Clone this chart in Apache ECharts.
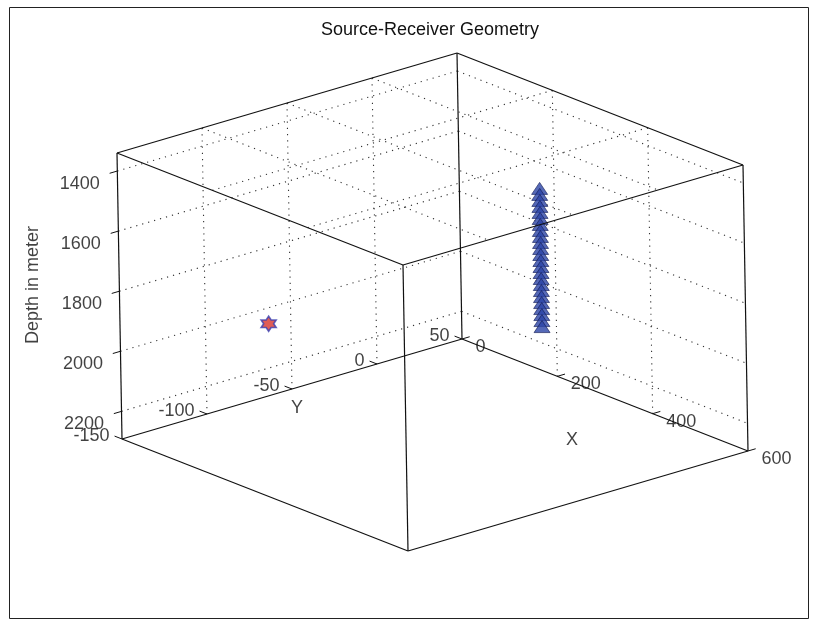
<!DOCTYPE html>
<html><head><meta charset="utf-8">
<script src="https://cdn.jsdelivr.net/npm/echarts@6/dist/echarts.min.js"></script>
<style>html,body{margin:0;padding:0;background:#fff}#c{width:817px;height:621px}</style>
</head><body><div id="c"></div>
<script>
// ---------- data ----------
const chartTitle = 'Source-Receiver Geometry';
const xAxisName = 'X';
const yAxisName = 'Y';
const zAxisName = 'Depth in meter';
const xTicks = [0, 200, 400, 600];
const yTicks = [-150, -100, -50, 0, 50];
const zTicks = [1400, 1600, 1800, 2000, 2200];
const xLimits = [0, 600];
const yLimits = [-150, 50];
const zLimits = [1340, 2292];
// receivers in the well (x, y fixed; depths listed)
const receiverX = 350;
const receiverY = 0;
const receiverDepths = [1490, 1510, 1530, 1550, 1570, 1590, 1610, 1630, 1650, 1670, 1690, 1710,
                        1730, 1750, 1770, 1790, 1810, 1830, 1850, 1870, 1890, 1910, 1930, 1950];
// source position [x, y, depth]
const sourcePos = [0, -63, 2053];

// ---------- view (orthographic projection of the 3-D box onto the 2-D canvas axes) ----------
const FONT = '"Liberation Sans", Arial, sans-serif';
const VIEW = { o: [117, 153], ex: [286, 112], ey: [340, -100], ez: [5, 286] };
function norm(v, lim) { return (v - lim[0]) / (lim[1] - lim[0]); }
function proj(x, y, z) {
  const u = norm(x, xLimits), v = norm(y, yLimits), w = norm(z, zLimits);
  return [VIEW.o[0] + u * VIEW.ex[0] + v * VIEW.ey[0] + w * VIEW.ez[0],
          VIEW.o[1] + u * VIEW.ex[1] + v * VIEW.ey[1] + w * VIEW.ez[1]];
}
function unit(a) { const l = Math.hypot(a[0], a[1]); return [a[0] / l, a[1] / l]; }
function seg(p, d, len) { return [p, [p[0] + d[0] * len, p[1] + d[1] * len]]; }

// box edges
const corners = [];
for (const x of xLimits) for (const y of yLimits) for (const z of zLimits) corners.push([x, y, z]);
const boxEdges = [];
for (let i = 0; i < corners.length; i++) for (let j = i + 1; j < corners.length; j++) {
  let diff = 0; for (let k = 0; k < 3; k++) if (corners[i][k] !== corners[j][k]) diff++;
  if (diff === 1) boxEdges.push({ coords: [proj(...corners[i]), proj(...corners[j])] });
}

// grid lines on the three back planes: x = xmin, y = ymax, z = zmin
const inner = (ticks, lim) => ticks.filter(t => t > lim[0] && t < lim[1]);
const gridLines = [];
for (const y of inner(yTicks, yLimits)) {
  gridLines.push({ coords: [proj(xLimits[0], y, zLimits[0]), proj(xLimits[0], y, zLimits[1])] });
  gridLines.push({ coords: [proj(xLimits[0], y, zLimits[0]), proj(xLimits[1], y, zLimits[0])] });
}
for (const x of inner(xTicks, xLimits)) {
  gridLines.push({ coords: [proj(x, yLimits[1], zLimits[0]), proj(x, yLimits[1], zLimits[1])] });
  gridLines.push({ coords: [proj(x, yLimits[0], zLimits[0]), proj(x, yLimits[1], zLimits[0])] });
}
for (const z of inner(zTicks, zLimits)) {
  gridLines.push({ coords: [proj(xLimits[0], yLimits[0], z), proj(xLimits[0], yLimits[1], z)] });
  gridLines.push({ coords: [proj(xLimits[0], yLimits[1], z), proj(xLimits[1], yLimits[1], z)] });
}

// tick marks and tick labels
const dEx = unit(VIEW.ex), dEy = unit(VIEW.ey);
const TICK = 8;
const tickMarks = [];
const zLabelData = [], yLabelData = [], xLabelData = [];
for (const z of zTicks) {
  const p = proj(xLimits[0], yLimits[0], z);
  tickMarks.push({ coords: seg(p, [-dEy[0], -dEy[1]], TICK) });
  zLabelData.push({ name: String(z), value: p });
}
for (const y of yTicks) {
  const p = proj(xLimits[0], y, zLimits[1]);
  tickMarks.push({ coords: seg(p, [-dEx[0], -dEx[1]], TICK) });
  yLabelData.push({ name: String(y), value: p });
}
for (const x of xTicks) {
  const p = proj(x, yLimits[1], zLimits[1]);
  tickMarks.push({ coords: seg(p, dEy, TICK) });
  xLabelData.push({ name: String(x), value: p });
}

const receiverData = receiverDepths.map(d => proj(receiverX, receiverY, d));
const sourceData = [proj(...sourcePos)];

const xNamePos = proj((xLimits[0] + xLimits[1]) / 2, yLimits[1], zLimits[1]);
const yNamePos = proj(xLimits[0], (yLimits[0] + yLimits[1]) / 2, zLimits[1]);
const zNamePos = proj(xLimits[0], yLimits[0], (zLimits[0] + zLimits[1]) / 2);

const txt = { fontSize: 18, color: '#111', fontFamily: FONT };
function labelSeries(data, label) {
  return { type: 'scatter', data, symbolSize: 1, silent: true, z: 6,
           itemStyle: { color: 'transparent' },
           label: Object.assign({ show: true, formatter: '{b}' }, txt, label) };
}

const hexagram = 'path://M0,-10L2.887,-5L8.66,-5L5.774,0L8.66,5L2.887,5L0,10L-2.887,5L-8.66,5L-5.774,0L-8.66,-5L-2.887,-5Z';

const option = {
  animation: false,
  backgroundColor: '#fff',
  grid: { left: 0, right: 0, top: 0, bottom: 0 },
  xAxis: { type: 'value', min: 0, max: 817, show: false },
  yAxis: { type: 'value', min: 0, max: 621, inverse: true, show: false },
  graphic: [
    { type: 'rect', shape: { x: 9.5, y: 7.5, width: 799, height: 611 },
      style: { fill: null, stroke: '#222', lineWidth: 1 }, z: 0 },
    { type: 'text', x: 430, y: 30,
      style: { text: chartTitle, fontSize: 18, fontFamily: FONT, fill: '#111',
               align: 'center', verticalAlign: 'middle', textAlign: 'center', textVerticalAlign: 'middle' } }
  ],
  series: [
    { type: 'lines', coordinateSystem: 'cartesian2d', polyline: false, silent: true, z: 1,
      data: gridLines, lineStyle: { color: '#333', width: 1.1, type: [1.2, 5], opacity: 1 } },
    { type: 'scatter', name: 'Receivers', data: receiverData, symbol: 'triangle', symbolSize: [16, 12], z: 3,
      itemStyle: { color: '#2a43a6', borderColor: '#121c55', borderWidth: 0.8 } },
    { type: 'scatter', name: 'Source', data: sourceData, symbol: hexagram, symbolSize: 15, z: 3,
      itemStyle: { color: '#d8352a', borderColor: '#3a3fb0', borderWidth: 1.6 } },
    { type: 'lines', coordinateSystem: 'cartesian2d', polyline: false, silent: true, z: 4,
      data: boxEdges, lineStyle: { color: '#111', width: 1.2, type: 'solid', opacity: 1 } },
    { type: 'lines', coordinateSystem: 'cartesian2d', polyline: false, silent: true, z: 4,
      data: tickMarks, lineStyle: { color: '#111', width: 1, type: 'solid', opacity: 1 } },
    labelSeries(zLabelData, { position: 'left', distance: 17, offset: [0, 13] }),
    labelSeries(yLabelData, { position: 'left', distance: 12, offset: [0, -3] }),
    labelSeries(xLabelData, { position: 'right', distance: 13, offset: [0, 8] }),
    labelSeries([{ name: xAxisName, value: xNamePos }], { position: 'inside', offset: [-33, 45] }),
    labelSeries([{ name: yAxisName, value: yNamePos }], { position: 'inside', offset: [5, 19] }),
    labelSeries([{ name: zAxisName, value: zNamePos }], { position: 'inside', offset: [11, -86], rotate: 90 })
  ]
};
const chart = echarts.init(document.getElementById('c'));
chart.setOption(option);
</script></body></html>
